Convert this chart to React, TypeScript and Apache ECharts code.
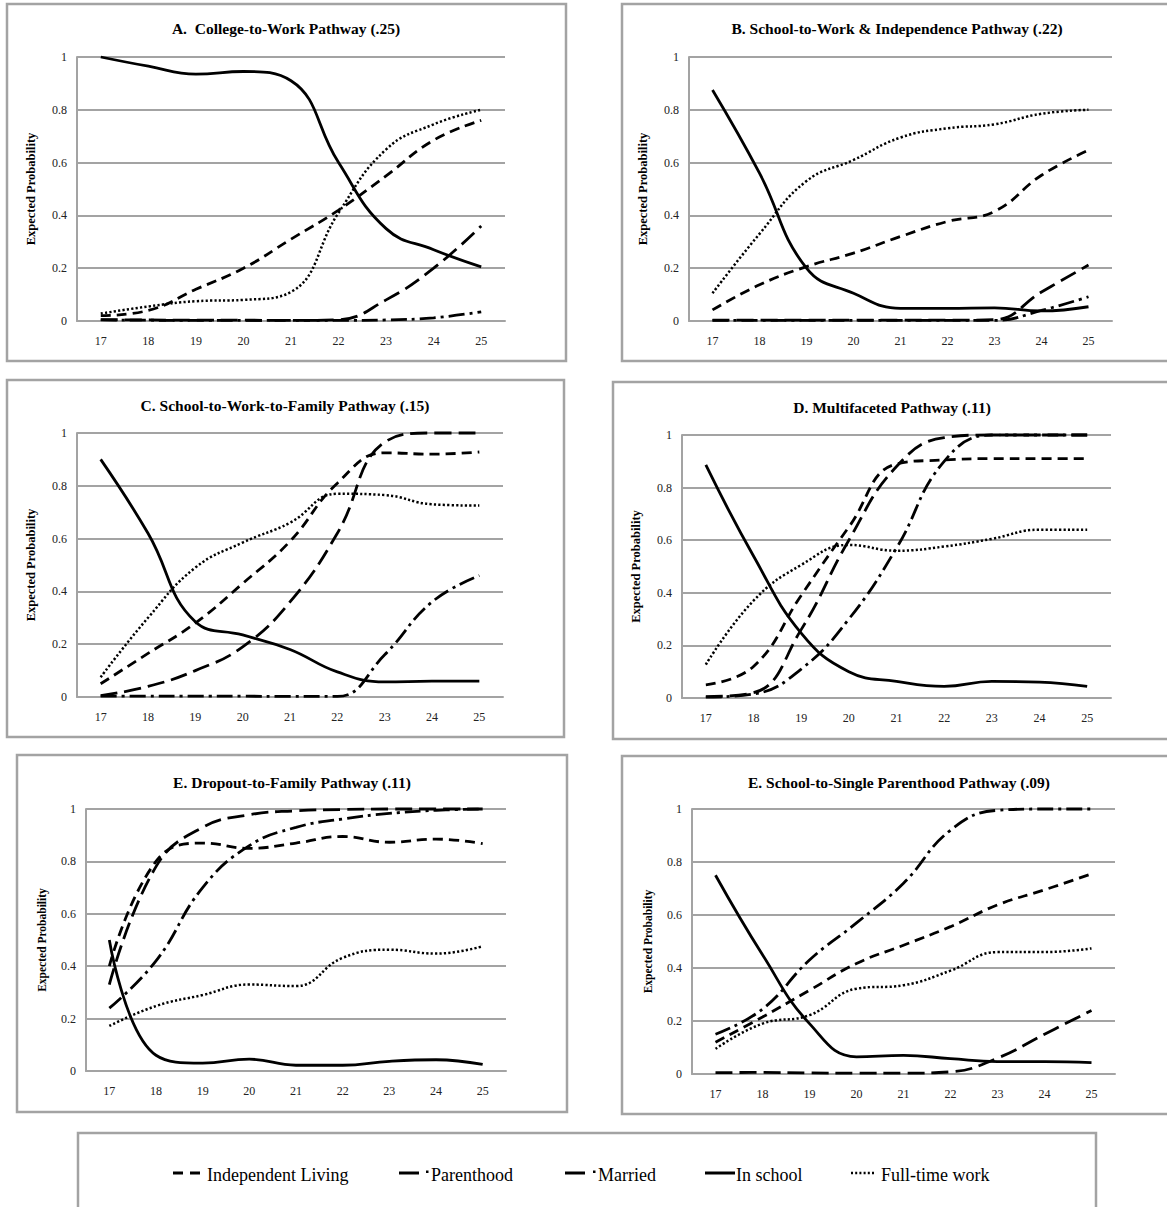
import React, { useEffect, useRef } from 'react';
import * as echarts from 'echarts';

const AGES = ['17', '18', '19', '20', '21', '22', '23', '24', '25'];

const PANEL_TITLES = [
  'A.  College-to-Work Pathway (.25)',
  'B. School-to-Work & Independence Pathway (.22)',
  'C. School-to-Work-to-Family Pathway (.15)',
  'D. Multifaceted Pathway (.11)',
  'E. Dropout-to-Family Pathway (.11)',
  'E. School-to-Single Parenthood Pathway (.09)',
];

const SERIES_NAMES = ['Independent Living', 'Parenthood', 'Married', 'In school', 'Full-time work'];
const Y_NAME = 'Expected Probability';

// A. College-to-Work
const aIndependent = [0.02, 0.04, 0.12, 0.2, 0.31, 0.42, 0.55, 0.685, 0.76];
const aParenthood = [0.004, 0.003, 0.002, 0.002, 0.002, 0.002, 0.004, 0.012, 0.035];
const aMarried = [0.005, 0.004, 0.003, 0.003, 0.002, 0.005, 0.08, 0.2, 0.36];
const aInSchool = [1.0, 0.965, 0.935, 0.945, 0.91, 0.6, 0.35, 0.27, 0.205];
const aFullTime = [0.028, 0.055, 0.075, 0.08, 0.11, 0.41, 0.65, 0.745, 0.8];

// B. School-to-Work & Independence
const bIndependent = [0.042, 0.137, 0.206, 0.257, 0.32, 0.377, 0.415, 0.552, 0.647];
const bParenthood = [0.002, 0.002, 0.002, 0.002, 0.002, 0.002, 0.002, 0.04, 0.092];
const bMarried = [0.003, 0.003, 0.003, 0.003, 0.003, 0.003, 0.005, 0.11, 0.212];
const bInSchool = [0.875, 0.56, 0.2, 0.105, 0.048, 0.048, 0.05, 0.038, 0.054];
const bFullTime = [0.105, 0.33, 0.53, 0.61, 0.695, 0.73, 0.745, 0.785, 0.8];

// C. School-to-Work-to-Family
const cIndependent = [0.05, 0.165, 0.28, 0.43, 0.59, 0.81, 0.925, 0.92, 0.928];
const cParenthood = [0.003, 0.003, 0.003, 0.003, 0.002, 0.002, 0.16, 0.36, 0.46];
const cMarried = [0.005, 0.04, 0.1, 0.19, 0.36, 0.62, 0.965, 1.0, 1.0];
const cInSchool = [0.9, 0.62, 0.285, 0.235, 0.18, 0.095, 0.057, 0.06, 0.06];
const cFullTime = [0.075, 0.3, 0.49, 0.585, 0.66, 0.77, 0.765, 0.73, 0.725];

// D. Multifaceted
const dIndependent = [0.05, 0.12, 0.39, 0.65, 0.89, 0.905, 0.91, 0.91, 0.91];
const dParenthood = [0.003, 0.015, 0.11, 0.3, 0.57, 0.9, 1.0, 1.0, 1.0];
const dMarried = [0.005, 0.02, 0.26, 0.6, 0.88, 0.99, 1.0, 1.0, 1.0];
const dInSchool = [0.886, 0.54, 0.247, 0.1, 0.063, 0.044, 0.063, 0.06, 0.044];
const dFullTime = [0.127, 0.37, 0.506, 0.582, 0.56, 0.576, 0.605, 0.64, 0.64];

// E. Dropout-to-Family
const eIndependent = [0.4, 0.8, 0.87, 0.85, 0.87, 0.895, 0.873, 0.885, 0.868];
const eParenthood = [0.24, 0.42, 0.7, 0.86, 0.93, 0.962, 0.983, 0.995, 1.0];
const eMarried = [0.33, 0.78, 0.93, 0.978, 0.993, 0.998, 1.0, 1.0, 1.0];
const eInSchool = [0.5, 0.06, 0.03, 0.045, 0.022, 0.022, 0.037, 0.043, 0.025];
const eFullTime = [0.172, 0.248, 0.29, 0.33, 0.324, 0.432, 0.463, 0.448, 0.476];

// E. School-to-Single Parenthood
const fIndependent = [0.12, 0.215, 0.316, 0.417, 0.486, 0.556, 0.638, 0.695, 0.755];
const fParenthood = [0.15, 0.245, 0.43, 0.57, 0.72, 0.92, 0.995, 1.0, 1.0];
const fMarried = [0.005, 0.006, 0.004, 0.003, 0.003, 0.008, 0.06, 0.15, 0.24];
const fInSchool = [0.75, 0.45, 0.19, 0.065, 0.07, 0.058, 0.047, 0.047, 0.043];
const fFullTime = [0.095, 0.19, 0.222, 0.322, 0.335, 0.39, 0.46, 0.46, 0.474];

const PANEL_DATA = [
  [aIndependent, aParenthood, aMarried, aInSchool, aFullTime],
  [bIndependent, bParenthood, bMarried, bInSchool, bFullTime],
  [cIndependent, cParenthood, cMarried, cInSchool, cFullTime],
  [dIndependent, dParenthood, dMarried, dInSchool, dFullTime],
  [eIndependent, eParenthood, eMarried, eInSchool, eFullTime],
  [fIndependent, fParenthood, fMarried, fInSchool, fFullTime],
];

const SERIF = '"Liberation Serif", "Times New Roman", Times, serif';
const GRAY = '#a3a3a3';

const LINE_TYPES: any[] = [
  [10, 6], // Independent Living: short dash
  [16, 5, 3, 5], // Parenthood: long dash dot
  [17, 7], // Married: long dash
  'solid', // In school
  [2.2, 2.2], // Full-time work: dotted
];

const LAYOUT = [
  { grid: { left: 77, top: 57, width: 428, height: 264 }, box: [7, 4, 559, 357], tx: 286, ty: 28, gap: 40, ns: 12.5 },
  { grid: { left: 689, top: 57, width: 423, height: 264 }, box: [622, 4, 570, 357], tx: 897, ty: 28, gap: 40, ns: 12.5 },
  { grid: { left: 77, top: 433, width: 426, height: 264 }, box: [7, 380, 557, 357], tx: 285, ty: 405, gap: 40, ns: 12.5 },
  { grid: { left: 682, top: 435, width: 429, height: 263 }, box: [613, 382, 570, 357], tx: 892, ty: 407, gap: 40, ns: 12.5 },
  { grid: { left: 86, top: 809, width: 420, height: 262 }, box: [17, 755, 550, 357], tx: 292, ty: 782, gap: 38, ns: 11.5 },
  { grid: { left: 692, top: 809, width: 423, height: 265 }, box: [622, 756, 570, 358], tx: 899, ty: 782, gap: 38, ns: 11.5 },
];

function buildOption() {
  const grid = LAYOUT.map((l) => ({ ...l.grid, containLabel: false }));
  const xAxis = LAYOUT.map((l, i) => ({
    type: 'category',
    gridIndex: i,
    data: AGES,
    boundaryGap: true,
    axisTick: { show: false },
    axisLine: { show: true, lineStyle: { color: GRAY, width: 2 } },
    axisLabel: { margin: 14, fontSize: 12, fontFamily: SERIF, color: '#222' },
    splitLine: { show: false },
  }));
  const yAxis = LAYOUT.map((l, i) => ({
    type: 'value',
    gridIndex: i,
    min: 0,
    max: 1,
    interval: 0.2,
    name: Y_NAME,
    nameLocation: 'middle',
    nameRotate: 90,
    nameGap: l.gap,
    nameTextStyle: { fontFamily: SERIF, fontWeight: 'bold', fontSize: l.ns, color: '#000' },
    axisTick: { show: false },
    axisLine: { show: true, lineStyle: { color: GRAY, width: 2 } },
    axisLabel: { margin: 10, fontSize: 12, fontFamily: SERIF, color: '#222' },
    splitLine: { show: true, lineStyle: { color: GRAY, width: 2.2 } },
  }));
  const series: any[] = [];
  PANEL_DATA.forEach((panel, pi) => {
    panel.forEach((vals, si) => {
      series.push({
        name: SERIES_NAMES[si],
        type: 'line',
        xAxisIndex: pi,
        yAxisIndex: pi,
        data: vals,
        smooth: 0.45,
        symbol: 'none',
        clip: false,
        z: si === 3 ? 4 : 3,
        lineStyle: { color: '#000', width: si === 4 ? 2.5 : 2.8, type: LINE_TYPES[si] },
      });
    });
  });

  const graphic: any[] = [];
  LAYOUT.forEach((l, i) => {
    graphic.push({
      type: 'rect',
      silent: true,
      shape: { x: l.box[0], y: l.box[1], width: l.box[2], height: l.box[3] },
      style: { fill: 'none', stroke: GRAY, lineWidth: 2.5 },
      z: 0,
    });
    graphic.push({
      type: 'text',
      silent: true,
      x: l.tx,
      y: l.ty,
      style: {
        text: PANEL_TITLES[i],
        fontFamily: SERIF,
        fontWeight: 'bold',
        fontSize: 15.5,
        fill: '#000',
        align: 'center',
        verticalAlign: 'middle',
      },
    });
  });
  // Legend box
  graphic.push({
    type: 'rect',
    silent: true,
    shape: { x: 78, y: 1133, width: 1018, height: 100 },
    style: { fill: 'none', stroke: GRAY, lineWidth: 2.5 },
  });
  const ly = 1173;
  const legendItems = [
    { x1: 173, x2: 200, dash: [10, 7], tx: 207, dot: null },
    { x1: 399, x2: 419, dash: null, tx: 431, dot: 426 },
    { x1: 565, x2: 585, dash: null, tx: 598, dot: 593 },
    { x1: 705, x2: 735, dash: null, tx: 736, dot: null },
    { x1: 851, x2: 876, dash: [2, 2.2], tx: 881, dot: null },
  ];
  legendItems.forEach((it, i) => {
    graphic.push({
      type: 'line',
      silent: true,
      shape: { x1: it.x1, y1: ly, x2: it.x2, y2: ly },
      style: { stroke: '#000', lineWidth: i === 4 ? 2.4 : 3, lineDash: it.dash || undefined },
    });
    if (it.dot) {
      graphic.push({
        type: 'rect',
        silent: true,
        shape: { x: it.dot, y: ly - 2.5, width: 2.5, height: 2.5 },
        style: { fill: '#000' },
      });
    }
    graphic.push({
      type: 'text',
      silent: true,
      x: it.tx,
      y: ly + 2,
      style: {
        text: SERIES_NAMES[i],
        fontFamily: SERIF,
        fontSize: 18,
        fill: '#000',
        align: 'left',
        verticalAlign: 'middle',
      },
    });
  });

  return {
    animation: false,
    backgroundColor: '#fff',
    grid,
    xAxis,
    yAxis,
    series,
    graphic,
  };
}

export default function App() {
  const ref = useRef<HTMLDivElement>(null);
  useEffect(() => {
    document.body.style.margin = '0';
    document.body.style.overflow = 'hidden';
    const chart = echarts.init(ref.current!, undefined, { renderer: 'svg' });
    chart.setOption(buildOption() as any);
    return () => chart.dispose();
  }, []);
  return (
    <div
      ref={ref}
      style={{ position: 'absolute', left: 0, top: 0, width: 1167, height: 1207, background: '#fff' }}
    />
  );
}
